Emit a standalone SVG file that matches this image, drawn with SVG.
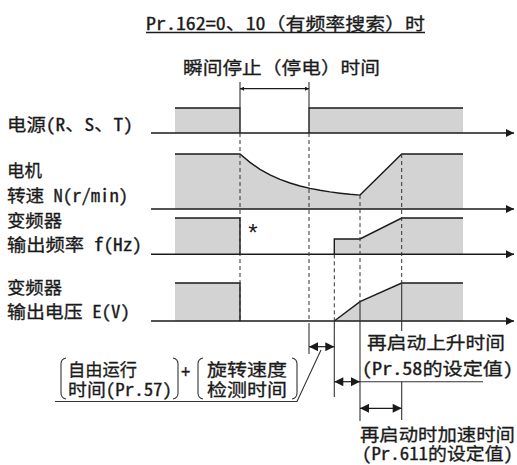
<svg xmlns="http://www.w3.org/2000/svg" width="517" height="465" viewBox="0 0 517 465">
<style>
.t{font-family:"Noto Sans Mono CJK SC","Noto Sans CJK SC",sans-serif;font-size:17.5px;fill:#1a1a1a;stroke:#1a1a1a;stroke-width:0.3}
.fill{fill:#d3d3d3;stroke:none}
.sig{fill:none;stroke:#1a1a1a;stroke-width:1.4}
.axis{fill:none;stroke:#1a1a1a;stroke-width:1.5}
.dash{fill:none;stroke:#333;stroke-width:1;stroke-dasharray:4 3}
.ln{fill:none;stroke:#333;stroke-width:1.1}
.dim{fill:none;stroke:#1a1a1a;stroke-width:1.2}
</style>
<defs>
<marker id="axh" viewBox="0 0 10 10" refX="10" refY="5" markerWidth="9" markerHeight="8" orient="auto" markerUnits="userSpaceOnUse"><path d="M0,0 L10,5 L0,10 Z" fill="#1a1a1a"/></marker>
<marker id="ah" viewBox="0 0 10 10" refX="10" refY="5" markerWidth="11" markerHeight="9" orient="auto-start-reverse" markerUnits="userSpaceOnUse"><path d="M0,0 L10,5 L0,10 Z" fill="#1a1a1a"/></marker>
<marker id="sh" viewBox="0 0 10 10" refX="10" refY="5" markerWidth="5" markerHeight="4" orient="auto-start-reverse" markerUnits="userSpaceOnUse"><path d="M0,0 L10,5 L0,10 Z" fill="#1a1a1a"/></marker>
</defs>

<g id="title">
<text class="t" x="146" y="29.5" textLength="279" lengthAdjust="spacingAndGlyphs">Pr.162=0、10（有频率搜索）时</text>
<line x1="146" y1="32.5" x2="425" y2="32.5" class="axis"/>
</g>

<g id="outage-label">
<text class="t" x="183" y="74" textLength="197" lengthAdjust="spacingAndGlyphs">瞬间停止（停电）时间</text>
</g>

<g id="labels">
<text class="t" x="7" y="131" textLength="126" lengthAdjust="spacingAndGlyphs">电源(R、S、T)</text>
<text class="t" x="7" y="177" textLength="35" lengthAdjust="spacingAndGlyphs">电机</text>
<text class="t" x="7" y="202" textLength="121" lengthAdjust="spacingAndGlyphs">转速 N(r/min)</text>
<text class="t" x="7" y="227" textLength="55" lengthAdjust="spacingAndGlyphs">变频器</text>
<text class="t" x="7" y="251" textLength="135" lengthAdjust="spacingAndGlyphs">输出频率 f(Hz)</text>
<text class="t" x="7" y="294" textLength="55" lengthAdjust="spacingAndGlyphs">变频器</text>
<text class="t" x="7" y="318" textLength="123" lengthAdjust="spacingAndGlyphs">输出电压 E(V)</text>
</g>

<g id="power">
<path class="fill" d="M175,108 H240 V133 H175 Z M309,108 H463 V133 H309 Z"/>
<path class="sig" d="M175,108 H240 V133 M309,133 V108 H463"/>
</g>

<g id="motor">
<path class="fill" d="M175,154 H240 L250,162.4 L260,169.3 L270,174.8 L280,179.3 L290,183 L300,186 L310,188.4 L320,190.3 L330,191.9 L340,193.2 L350,194.3 L360,195.1 L401.7,154 H463 V209 H175 Z"/>
<path class="sig" d="M175,154 H240 L250,162.4 L260,169.3 L270,174.8 L280,179.3 L290,183 L300,186 L310,188.4 L320,190.3 L330,191.9 L340,193.2 L350,194.3 L360,195.1 L401.7,154 H463"/>
</g>

<g id="frequency">
<path class="fill" d="M175,218 H240 V254.3 H175 Z M334.3,254.3 V239 H360 L401.7,218 H463 V254.3 Z"/>
<path class="sig" d="M175,218 H240 V254.3 M334.3,254.3 V239 H360 L401.7,218 H463"/>
<text x="253" y="241" font-family="Liberation Sans, sans-serif" font-size="24" fill="#1a1a1a" text-anchor="middle">*</text>
</g>

<g id="voltage">
<path class="fill" d="M175,283 H240 V321 H175 Z M334.3,321 L360,301.7 L401.7,283 H463 V321 Z"/>
<path class="sig" d="M175,283 H240 V321 M334.3,321 L360,301.7 L401.7,283 H463"/>
</g>

<g id="connectors">
<path class="axis" marker-end="url(#axh)" d="M151,133 H514"/>
<path class="axis" marker-end="url(#axh)" d="M151,209 H514"/>
<path class="axis" marker-end="url(#axh)" d="M151,254.3 H514"/>
<path class="axis" marker-end="url(#axh)" d="M151,321 H514"/>

<path class="dash" d="M240,133 V321 M309,133 V321 M334.3,254.3 V321 M360,195.1 V301.7 M401.7,154 V283"/>
<path class="ln" d="M240,82 V108 M309,82 V108 M309,323 V354 M334.3,321 V397 M360,301.7 V421 M401.7,283 V331 M401.7,381.7 V420"/>

<path class="dim" marker-start="url(#sh)" marker-end="url(#sh)" d="M240,88.7 H309"/>
<path class="dim" marker-start="url(#ah)" marker-end="url(#ah)" d="M309,346.7 H334.3"/>
<path class="dim" marker-start="url(#ah)" marker-end="url(#ah)" d="M334.3,381.7 H360"/>
<path class="ln" d="M360,381.7 H483"/>
<path class="dim" marker-start="url(#ah)" marker-end="url(#ah)" d="M360,408.3 H401.7"/>
<path class="ln" d="M321,350 L297,401.5 H55"/>
</g>

<g id="coast-label">
<path class="ln" d="M66,358 Q61,359 61,364 V393 Q61,398 66,399 M173,358 Q178,359 178,364 V393 Q178,398 173,399"/>
<text class="t" x="68" y="376" textLength="69" lengthAdjust="spacingAndGlyphs">自由运行</text>
<text class="t" x="68" y="396" textLength="104" lengthAdjust="spacingAndGlyphs">时间(Pr.57)</text>
<text class="t" x="185.5" y="378" font-size="14" text-anchor="middle">+</text>
<path class="ln" d="M203,358 Q198,359 198,364 V393 Q198,398 203,399 M292,358 Q297,359 297,364 V393 Q297,398 292,399"/>
<text class="t" x="207" y="376" textLength="80" lengthAdjust="spacingAndGlyphs">旋转速度</text>
<text class="t" x="207" y="396" textLength="80" lengthAdjust="spacingAndGlyphs">检测时间</text>
</g>

<g id="restart-rise-label">
<text class="t" x="367" y="349" textLength="138" lengthAdjust="spacingAndGlyphs">再启动上升时间</text>
<text class="t" x="362" y="375" textLength="151" lengthAdjust="spacingAndGlyphs">(Pr.58的设定值)</text>
</g>

<g id="restart-accel-label">
<text class="t" x="360" y="441" textLength="155" lengthAdjust="spacingAndGlyphs">再启动时加速时间</text>
<text class="t" x="362" y="460" textLength="151" lengthAdjust="spacingAndGlyphs">(Pr.611的设定值)</text>
</g>
</svg>
